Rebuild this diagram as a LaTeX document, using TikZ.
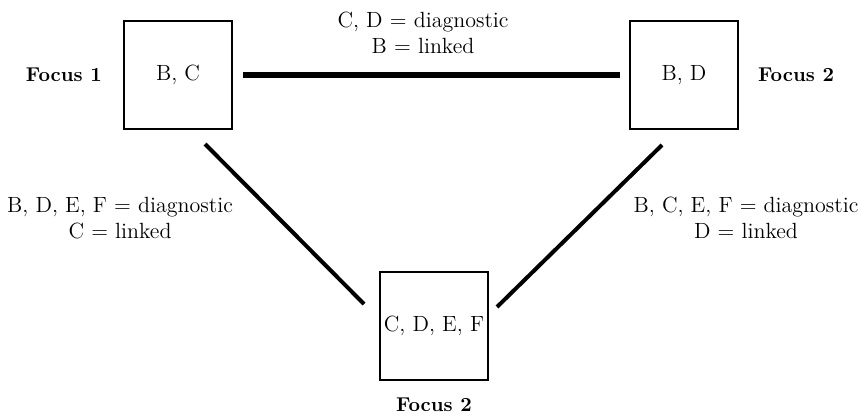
\documentclass[tikz,border=0pt]{standalone}
\usepackage{tikz}
\usetikzlibrary{positioning}

\begin{document}
\begin{tikzpicture}[x=0.5pt,y=-0.5pt,
 focus/.style={draw,line width=1pt,minimum size=54pt,inner sep=0pt,
 font=\fontsize{11}{13}\selectfont},
 tag/.style={font=\fontsize{10}{12}\selectfont\bfseries},
 note/.style={align=center,font=\fontsize{11}{12.8}\selectfont},
 strong/.style={line width=3pt},
 weak/.style={line width=2pt}]
\useasboundingbox (0,0) rectangle (860,417);
% the three foci
\node[focus] (fa) at (178,75) {B, C};
\node[focus] (fb) at (684,75) {B, D};
\node[focus] (fc) at (434,326) {C, D, E, F};
\node[tag,left=7pt of fa] (ta) {Focus 1};
\node[tag,right=6pt of fb] (tb) {Focus 2};
\node[tag,below=5pt of fc] (tc) {Focus 2};
% links between them
\draw[strong,shorten <=5pt,shorten >=4.5pt] (fa) -- (fb);
\draw[weak] ([shift={(-28,14)}]fa.south east) -- ([shift={(-15,-22)}]fc.west);
\draw[weak] ([shift={(33,15)}]fb.south west) -- ([shift={(8,-19)}]fc.east);
\node[note] (nab) at (423,33) {C, D = diagnostic\\B = linked};
\node[note] (nac) at (120,218) {B, D, E, F = diagnostic\\C = linked};
\node[note] (nbc) at (746,218) {B, C, E, F = diagnostic\\D = linked};
\end{tikzpicture}
\end{document}
